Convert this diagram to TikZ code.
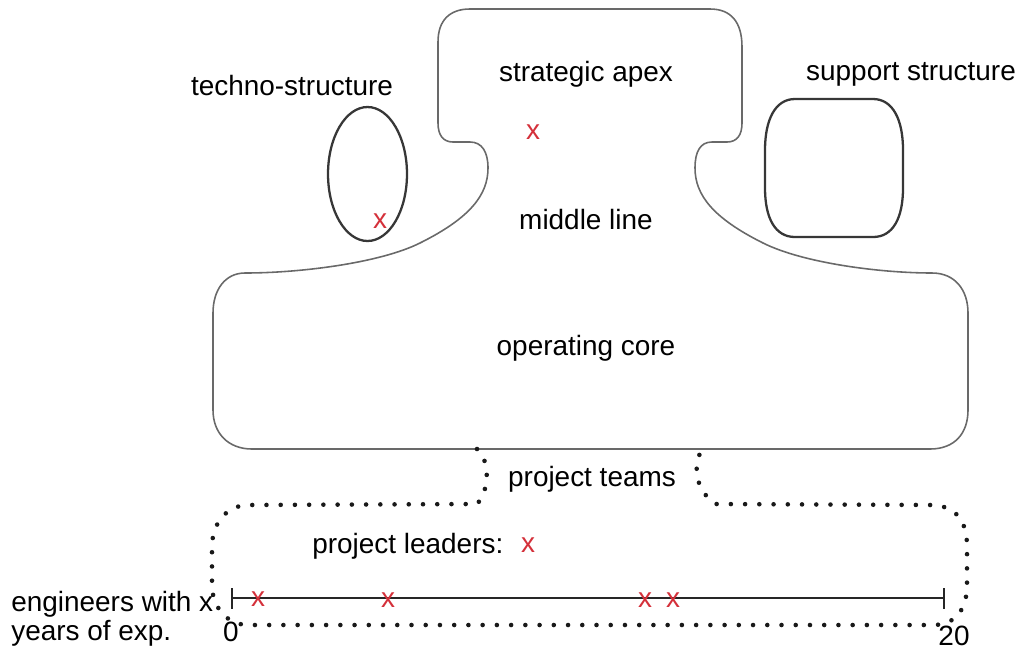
\documentclass[tikz,border=0pt]{standalone}
\usepackage{fontspec}
\setmainfont{Liberation Sans}
\definecolor{markred}{RGB}{212,48,58}
\definecolor{outlinegray}{RGB}{105,105,105}
\definecolor{unitgray}{RGB}{55,55,55}
\tikzset{
  lbl/.style={inner sep=0pt, font=\fontsize{15.9}{19}\selectfont, text=black},
  personx/.style={inner sep=0pt, font=\fontsize{15.9}{19}\selectfont, text=markred},
  outline/.style={draw=outlinegray, line width=0.9pt},
  unitshape/.style={draw=unitgray, line width=1.3pt},
  teamdots/.style={draw=black!90, line width=2.6pt, line cap=round, dash pattern=on 0pt off 8.1pt},
  axisline/.style={draw=black!85, line width=0.7pt}
}
\begin{document}
\begin{tikzpicture}[x=0.02cm, y=-0.02cm]
\useasboundingbox (0,0) rectangle (1023,650);

% strategic apex, middle line and operating core as one outline
\draw[outline]
  (438,42) .. controls (438,20) and (450,9) .. (470,9)
  -- (710,9) .. controls (731,9) and (742,22) .. (742,47)
  -- (742,123) .. controls (742,135) and (737,142) .. (727,142)
  -- (712,142) .. controls (700,142) and (695,152) .. (695,168)
  .. controls (695,195) and (713,218) .. (763,243)
  .. controls (803,263) and (880,273) .. (932,273)
  .. controls (955,273) and (968,290) .. (968,313)
  -- (968,410) .. controls (968,433) and (955,449) .. (930,449)
  -- (252,449) .. controls (228,449) and (213,433) .. (213,410)
  -- (213,313) .. controls (213,290) and (225,273) .. (245,273)
  .. controls (300,273) and (380,263) .. (420,243)
  .. controls (470,218) and (488,195) .. (488,168)
  .. controls (488,152) and (482,142) .. (470,142)
  -- (453,142) .. controls (443,142) and (438,135) .. (438,123)
  -- cycle;

% techno-structure
\draw[unitshape] (367.5,174) ellipse [x radius=0.79cm, y radius=1.34cm];

% support structure
\draw[unitshape]
  (795,99) -- (873,99) .. controls (893,99) and (903,120) .. (903,150)
  -- (903,188) .. controls (903,218) and (893,237) .. (873,237)
  -- (795,237) .. controls (775,237) and (765,218) .. (765,188)
  -- (765,150) .. controls (765,120) and (775,99) .. (795,99) -- cycle;

% project teams (dotted)
\draw[teamdots]
  (477,449) .. controls (490,460) and (490,490) .. (477,504)
  -- (249,505) .. controls (225,505) and (212,525) .. (212,547)
  -- (212,585) .. controls (212,605) and (225,625) .. (249,625)
  -- (933,625) .. controls (955,625) and (967,610) .. (967,585)
  -- (967,546) .. controls (967,520) and (955,505) .. (930,505)
  -- (716,504) .. controls (693,490) and (693,460) .. (703,449);

% years-of-experience axis
\coordinate (axL) at (232,598);
\coordinate (axR) at (944,598);
\draw[axisline] (axL) -- (axR);
\draw[axisline] ([yshift=0.2cm]axL) -- ([yshift=-0.22cm]axL);
\draw[axisline] ([yshift=0.2cm]axR) -- ([yshift=-0.22cm]axR);

% labels
\node[lbl, anchor=base] (techno) at (292,95) {techno-structure};
\node[lbl, anchor=base] (apex) at (586,81) {strategic apex};
\node[lbl, anchor=base] (support) at (911,80) {support structure};
\node[lbl, anchor=base] (middle) at (586,229) {middle line};
\node[lbl, anchor=base] (core) at (586,355) {operating core};
\node[lbl, anchor=base] (teams) at (592,486) {project teams};
\node[lbl, anchor=base west] (leaders) at (312,553) {project leaders:};
\node[lbl, anchor=base west] (eng) at (11,611) {engineers with x};
\node[lbl, anchor=base west] (years) at (11,640) {years of exp.};
\node[lbl, anchor=base] (zero) at (231,641) {0};
\node[lbl, anchor=base] (twenty) at (954,645) {20};

% people
\node[personx] (xapex) at (533,132) {x};
\node[personx] (xtechno) at (380,221) {x};
\node[personx] (xleader) at (528,545) {x};
\node[personx] (xeng1) at (258,599) {x};
\node[personx] (xeng2) at (388,600) {x};
\node[personx] (xeng3) at (645,600) {x};
\node[personx] (xeng4) at (673,600) {x};
\end{tikzpicture}
\end{document}
